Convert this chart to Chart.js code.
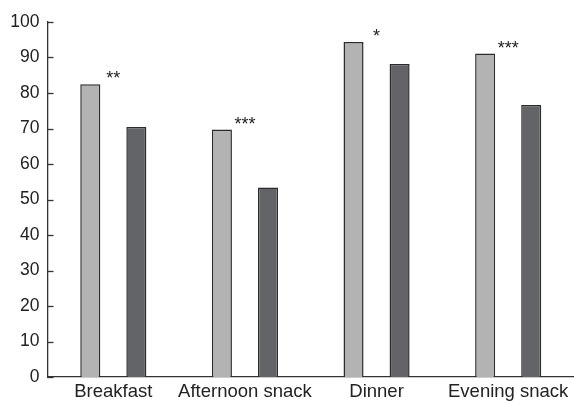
<!DOCTYPE html>
<html>
<head>
<meta charset="utf-8">
<script src="https://cdn.jsdelivr.net/npm/chart.js@4"></script>
<style>
  html, body { margin: 0; padding: 0; background: #ffffff; }
  #wrap { width: 574px; height: 401px; position: relative; }
</style>
</head>
<body>
<div id="wrap"><canvas id="c"></canvas></div>
<script>
const categories = ['Breakfast', 'Afternoon snack', 'Dinner', 'Evening snack'];
const seriesA = [82.5, 69.7, 94.4, 91.1];
const seriesB = [70.4, 53.4, 88.2, 76.6];
const significance = ['**', '***', '*', '***'];
const yTicks = [0, 10, 20, 30, 40, 50, 60, 70, 80, 90, 100];

const FONT = '"Liberation Sans", Arial, Helvetica, sans-serif';

const annotPlugin = {
  id: 'annot',
  afterDraw(chart) {
    const ctx = chart.ctx;
    const y = chart.scales.y, x = chart.scales.x;
    ctx.save();
    ctx.strokeStyle = '#333';
    ctx.lineWidth = 1.3;
    yTicks.forEach(v => {
      const py = Math.round(y.getPixelForValue(v)) + 0.5;
      ctx.beginPath();
      ctx.moveTo(chart.chartArea.left, py);
      ctx.lineTo(chart.chartArea.left + 6, py);
      ctx.stroke();
    });
    ctx.fillStyle = '#222';
    ctx.font = '18px ' + FONT;
    ctx.textAlign = 'center';
    ctx.textBaseline = 'alphabetic';
    significance.forEach((s, i) => {
      const top = Math.max(seriesA[i], seriesB[i]);
      const px = x.getPixelForValue(i);
      const py = y.getPixelForValue(top);
      ctx.fillText(s, px, py);
    });
    ctx.restore();
  }
};

new Chart(document.getElementById('c'), {
  type: 'bar',
  data: {
    labels: categories,
    datasets: [
      { data: seriesA, backgroundColor: '#b3b3b4', borderColor: '#2b2b2b', borderWidth: 1.5,
        categoryPercentage: 0.7, barPercentage: 0.435 },
      { data: seriesB, backgroundColor: '#636467', borderColor: '#2b2b2b', borderWidth: 1.5,
        categoryPercentage: 0.7, barPercentage: 0.435 }
    ]
  },
  options: {
    responsive: true,
    maintainAspectRatio: false,
    animation: false,
    layout: { padding: { top: 22, left: 11, right: 0, bottom: 0 } },
    plugins: { legend: { display: false }, tooltip: { enabled: false } },
    scales: {
      x: {
        afterFit(scale) { scale.height = 24; },
        grid: { display: false, drawTicks: false },
        border: { display: true, color: '#333', width: 1.3 },
        ticks: { color: '#222', font: { family: FONT, size: 18.5 }, padding: 4, maxRotation: 0, autoSkip: false }
      },
      y: {
        min: 0, max: 100,
        afterFit(scale) { scale.width = 36.5; },
        afterBuildTicks(scale) { scale.ticks = yTicks.map(v => ({ value: v })); },
        grid: { display: false, drawTicks: false },
        border: { display: true, color: '#333', width: 1.3 },
        ticks: { color: '#222', font: { family: FONT, size: 17.5 }, padding: 8 }
      }
    }
  },
  plugins: [annotPlugin]
});
</script>
</body>
</html>
